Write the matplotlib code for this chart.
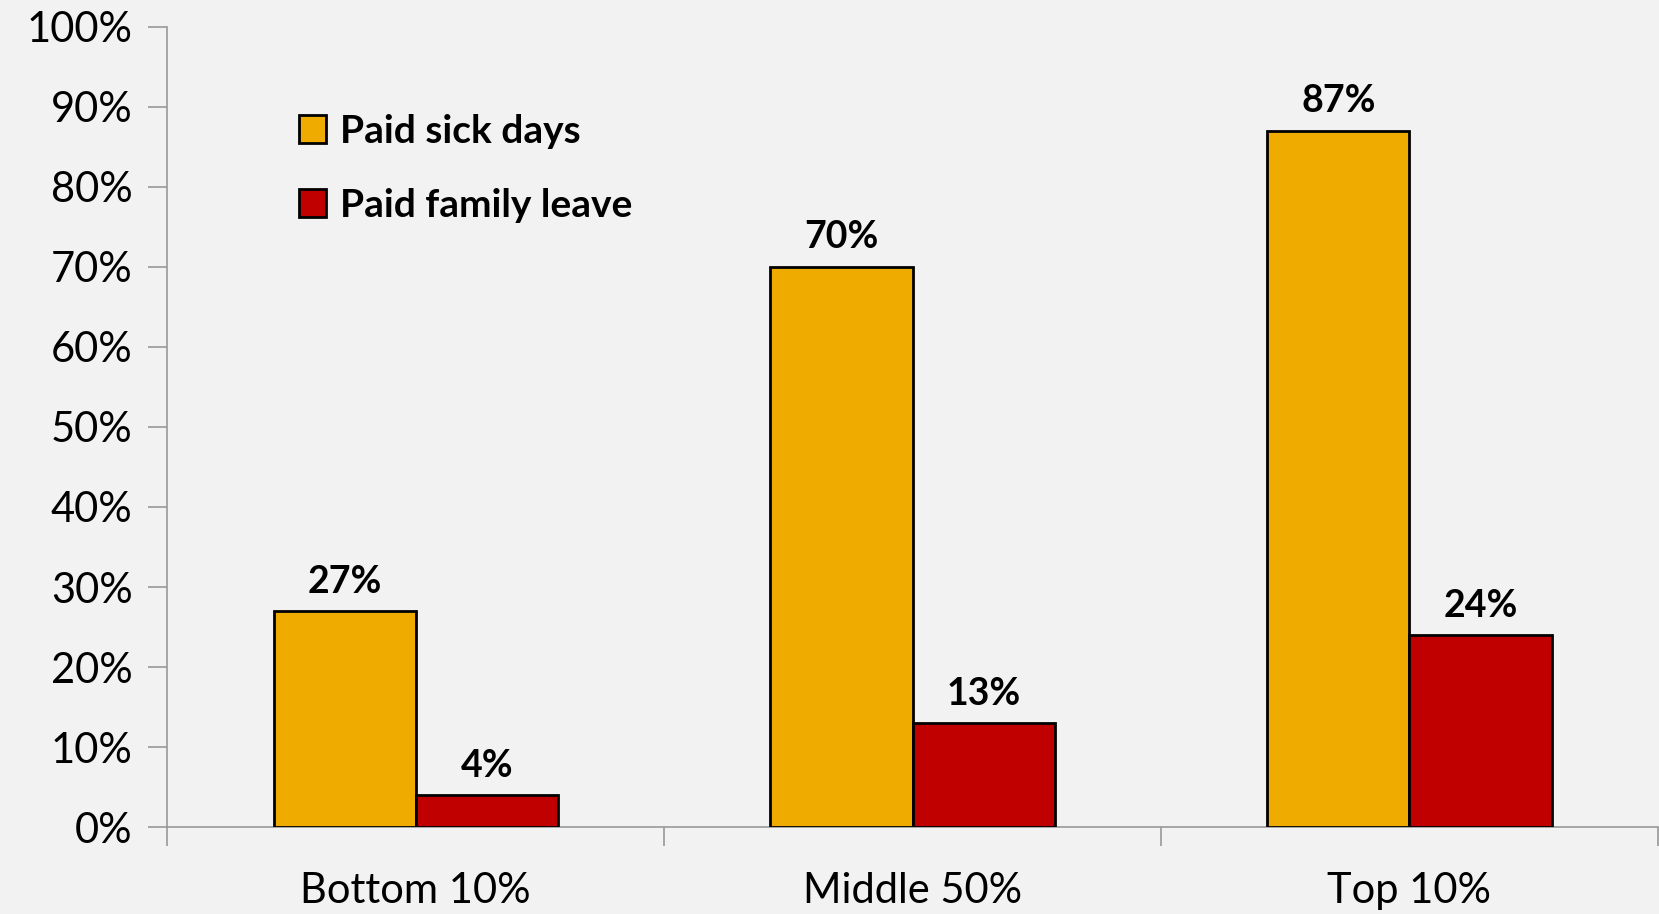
import matplotlib
matplotlib.use("Agg")
from matplotlib import pyplot as plt
from matplotlib.patches import Patch
import numpy as np

# data
groups = ["Bottom 10%", "Middle 50%", "Top 10%"]
sick_days = [27, 70, 87]
family_leave = [4, 13, 24]
series_names = ["Paid sick days", "Paid family leave"]
colors = ["#F0AB00", "#C00000"]
yticks = list(range(0, 101, 10))

plt.rcParams['font.family'] = ['Lato', 'DejaVu Sans']
bg = "#F2F2F2"

fig = plt.figure(figsize=(16.59, 9.14), dpi=100, facecolor=bg)
ax = fig.add_axes([0.1008, 0.0949, 0.8985, 0.876])
ax.set_facecolor(bg)

x = np.arange(len(groups))
w = 0.286
b1 = ax.bar(x - w / 2, sick_days, w, color=colors[0], edgecolor="black", linewidth=2, zorder=3)
b2 = ax.bar(x + w / 2, family_leave, w, color=colors[1], edgecolor="black", linewidth=2, zorder=3)

# value labels above bars
for bars, vals in [(b1, sick_days), (b2, family_leave)]:
    for r, v in zip(bars, vals):
        ax.annotate(f"{v}%", (r.get_x() + r.get_width() / 2, v), xytext=(0, 9),
                    textcoords="offset points", ha="center", va="bottom",
                    fontsize=27, fontweight="bold", color="black")

ax.set_xlim(-0.5, len(groups) - 0.5)
ax.set_ylim(0, 100)
ax.set_yticks(yticks)
ax.set_yticklabels([f"{t}%" for t in yticks], fontsize=30)
ax.tick_params(axis="y", direction="out", length=14, width=1.2, color="#999999", pad=11)

# category ticks at group boundaries, labels centered
ax.set_xticks(np.arange(-0.5, len(groups), 1.0))
ax.set_xticklabels([""] * (len(groups) + 1))
ax.set_xticks(x, minor=True)
ax.set_xticklabels(groups, minor=True, fontsize=30)
ax.tick_params(axis="x", which="major", direction="out", length=14, width=1.2, color="#999999")
ax.tick_params(axis="x", which="minor", length=0, pad=32)

for s in ["top", "right"]:
    ax.spines[s].set_visible(False)
for s in ["left", "bottom"]:
    ax.spines[s].set_color("#999999")
    ax.spines[s].set_linewidth(1.2)

handles = [Patch(facecolor=c, edgecolor="black", linewidth=2) for c in colors]
leg = ax.legend(handles, series_names, loc="upper left", bbox_to_anchor=(0.065, 0.935),
                frameon=False, handlelength=0.7, handleheight=0.7, handletextpad=0.35,
                labelspacing=1.0, prop={"size": 28, "weight": "bold"})

fig.savefig("out.png", dpi=100, facecolor=bg)
